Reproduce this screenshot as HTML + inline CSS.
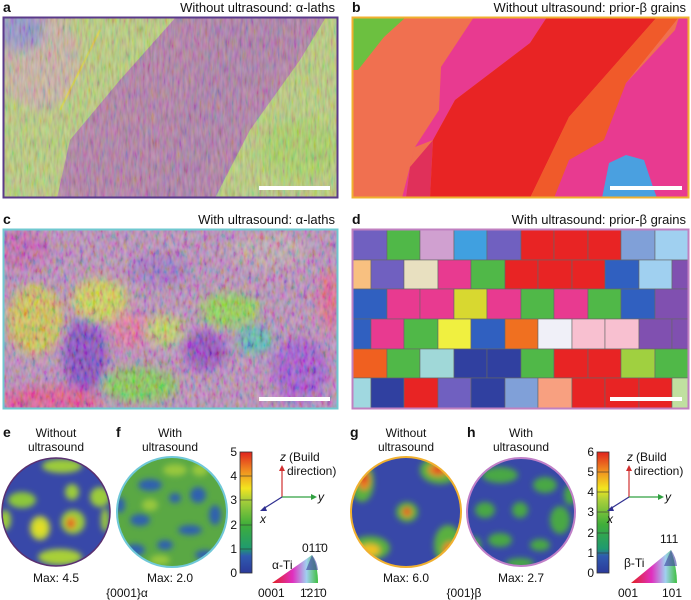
<!DOCTYPE html>
<html><head><meta charset="utf-8"><style>
body{margin:0;background:#fff;}
svg{display:block;font-family:"Liberation Sans",sans-serif;}
</style></head><body>
<svg width="691" height="600" viewBox="0 0 691 600" xmlns="http://www.w3.org/2000/svg">
<defs>
<filter id="tex" x="0" y="0" width="100%" height="100%">
 <feTurbulence type="fractalNoise" baseFrequency="0.35 0.08" numOctaves="2" seed="3"/>
 <feColorMatrix type="matrix" values="1.6 0 0 0 -0.3  0 1.6 0 0 -0.3  0 0 1.6 0 -0.3  0 0 0 0 0.22"/>
</filter>
<filter id="tex2" x="0" y="0" width="100%" height="100%">
 <feTurbulence type="fractalNoise" baseFrequency="0.25 0.12" numOctaves="2" seed="7"/>
 <feColorMatrix type="matrix" values="2 0 0 0 -0.5  0 2 0 0 -0.5  0 0 2 0 -0.5  0 0 0 0 0.25"/>
</filter>
<filter id="bl" x="-50%" y="-50%" width="200%" height="200%"><feGaussianBlur stdDeviation="5"/></filter>
<filter id="bl2" x="-50%" y="-50%" width="200%" height="200%"><feGaussianBlur stdDeviation="3"/></filter>
<clipPath id="ca"><rect x="3" y="17" width="335" height="181"/></clipPath>
<clipPath id="cc"><rect x="3" y="229" width="335" height="180"/></clipPath>
<clipPath id="cd"><rect x="353" y="230" width="335" height="178"/></clipPath>
<clipPath id="ce"><circle cx="56" cy="512" r="54"/></clipPath>
<clipPath id="cf"><circle cx="172" cy="512" r="55"/></clipPath>
<clipPath id="cg"><circle cx="406" cy="512" r="55"/></clipPath>
<clipPath id="ch"><circle cx="521" cy="512" r="54"/></clipPath>
<linearGradient id="cb" x1="0" y1="1" x2="0" y2="0">
 <stop offset="0" stop-color="#2b3a9a"/><stop offset="0.14" stop-color="#2f5ab0"/><stop offset="0.2" stop-color="#1f9a70"/>
 <stop offset="0.4" stop-color="#3fae3a"/><stop offset="0.6" stop-color="#a8cf3a"/><stop offset="0.7" stop-color="#f3e51f"/>
 <stop offset="0.85" stop-color="#f08a20"/><stop offset="1" stop-color="#e0231e"/>
</linearGradient>
<linearGradient id="tri" x1="0" y1="0" x2="1" y2="0">
 <stop offset="0" stop-color="#e02020"/><stop offset="0.45" stop-color="#e030c0"/><stop offset="0.75" stop-color="#a0d0f0"/><stop offset="1" stop-color="#40c040"/>
</linearGradient>
</defs>

<g font-size="13" fill="#111">
<text x="3" y="12" font-weight="bold" font-size="14">a</text>
<text x="335" y="12" text-anchor="end">Without ultrasound: α-laths</text>
<text x="352" y="12" font-weight="bold" font-size="14">b</text>
<text x="686" y="12" text-anchor="end">Without ultrasound: prior-β grains</text>
<text x="3" y="224" font-weight="bold" font-size="14">c</text>
<text x="335" y="224" text-anchor="end">With ultrasound: α-laths</text>
<text x="352" y="224" font-weight="bold" font-size="14">d</text>
<text x="686" y="224" text-anchor="end">With ultrasound: prior-β grains</text>
</g>

<!-- panel a -->
<g clip-path="url(#ca)">
<rect x="3" y="17" width="335" height="181" fill="#b8cc78"/>
<ellipse cx="40" cy="60" rx="40" ry="50" fill="#c8b0a0" filter="url(#bl)"/>
<ellipse cx="300" cy="150" rx="40" ry="30" fill="#a8d060" filter="url(#bl)"/>
<ellipse cx="20" cy="30" rx="25" ry="20" fill="#9090c8" filter="url(#bl)"/>
<polygon points="176,17 326,17 300,60 250,130 215,198 57,198 70,140 120,80" fill="#b07aa4"/>
<polygon points="215,17 300,17 260,80 220,140 190,198 150,198 180,120" fill="#a878a8" opacity="0.6"/>
<line x1="100" y1="30" x2="60" y2="110" stroke="#d8d040" stroke-width="2"/>
<rect x="3" y="17" width="335" height="181" filter="url(#tex)"/>
</g>
<rect x="3.5" y="17.5" width="334" height="180" fill="none" stroke="#5a3a8a" stroke-width="2"/>
<rect x="259" y="186" width="71" height="4" fill="#fff"/>

<!-- panel b -->
<g transform="translate(352,17)">
<rect x="0" y="0" width="337" height="181" fill="#f07050"/>
<polygon points="1,0 54,0 32,20 6,53 1,53" fill="#6cc040"/>
<polygon points="122,0 195,0 178,26 103,83 81,123 63,130 58,150 54,181 50,181 63,130 87,93 89,50" fill="#e83a90"/>
<polygon points="54,181 58,150 81,123 78,181" fill="#e0305a"/>
<polygon points="195,0 305,0 217,100 178,181 78,181 81,123 103,83 178,26" fill="#e82424"/>
<polygon points="305,0 327,0 274,66 252,133 202,181 178,181 217,100" fill="#f05a2a"/>
<polygon points="327,0 337,0 337,181 202,181 217,143 252,123 274,66 323,13" fill="#e83a90"/>
<polygon points="250,181 257,146 274,138 292,143 301,170 305,181" fill="#4aa0e0"/>
</g>
<rect x="352.5" y="17.5" width="336" height="180" fill="none" stroke="#f0b030" stroke-width="2"/>
<rect x="610" y="186" width="72" height="4" fill="#fff"/>

<!-- panel c -->
<g clip-path="url(#cc)">
<rect x="3" y="229" width="335" height="180" fill="#b888b8"/>
<g filter="url(#bl)">
<ellipse cx="35" cy="320" rx="28" ry="35" fill="#d0c050"/>
<ellipse cx="85" cy="355" rx="22" ry="38" fill="#8040c0"/>
<ellipse cx="100" cy="300" rx="28" ry="22" fill="#d0d050"/>
<ellipse cx="205" cy="350" rx="22" ry="20" fill="#9040c0"/>
<ellipse cx="140" cy="385" rx="38" ry="18" fill="#80c850"/>
<ellipse cx="300" cy="370" rx="28" ry="32" fill="#a050d0"/>
<ellipse cx="270" cy="250" rx="40" ry="18" fill="#c0a0b0"/>
<ellipse cx="230" cy="310" rx="30" ry="18" fill="#90d050"/>
<ellipse cx="20" cy="250" rx="30" ry="20" fill="#c060b0"/>
<ellipse cx="50" cy="400" rx="50" ry="14" fill="#e05090"/>
<ellipse cx="255" cy="340" rx="18" ry="14" fill="#50b8b0"/>
<ellipse cx="160" cy="270" rx="30" ry="16" fill="#a070c0"/>
<ellipse cx="130" cy="330" rx="20" ry="18" fill="#e070a0"/>
<ellipse cx="165" cy="330" rx="18" ry="16" fill="#c0d060"/>
<ellipse cx="330" cy="300" rx="12" ry="30" fill="#e06090"/>
</g>
<rect x="3" y="229" width="335" height="180" filter="url(#tex2)"/>
</g>
<rect x="3.5" y="229.5" width="334" height="179" fill="none" stroke="#70c8d0" stroke-width="2"/>
<rect x="259" y="397" width="71" height="4" fill="#fff"/>

<!-- panel d -->
<g clip-path="url(#cd)" stroke="#666" stroke-width="0.6">
<rect x="353" y="230" width="335" height="178" fill="#50b848"/>
<g>
<rect x="353" y="230" width="34" height="30" fill="#7060c0"/><rect x="387" y="230" width="33" height="30" fill="#50b848"/><rect x="420" y="230" width="34" height="30" fill="#d0a0d0"/><rect x="454" y="230" width="33" height="30" fill="#40a0e0"/><rect x="487" y="230" width="34" height="30" fill="#7060c0"/><rect x="521" y="230" width="33" height="30" fill="#e82424"/><rect x="554" y="230" width="34" height="30" fill="#e82424"/><rect x="588" y="230" width="33" height="30" fill="#e82424"/><rect x="621" y="230" width="34" height="30" fill="#80a0d8"/><rect x="655" y="230" width="33" height="30" fill="#a0d0f0"/>
</g>
<g>
<rect x="337" y="260" width="34" height="29" fill="#f8c080"/><rect x="371" y="260" width="33" height="29" fill="#7060c0"/><rect x="404" y="260" width="34" height="29" fill="#e8e0c0"/><rect x="438" y="260" width="33" height="29" fill="#e83a90"/><rect x="471" y="260" width="34" height="29" fill="#50b848"/><rect x="505" y="260" width="33" height="29" fill="#e82424"/><rect x="538" y="260" width="34" height="29" fill="#e82424"/><rect x="572" y="260" width="33" height="29" fill="#e82424"/><rect x="605" y="260" width="34" height="29" fill="#3060c0"/><rect x="639" y="260" width="33" height="29" fill="#a0d0f0"/><rect x="672" y="260" width="34" height="29" fill="#8050b0"/>
</g>
<g>
<rect x="353" y="289" width="34" height="30" fill="#3060c0"/><rect x="387" y="289" width="33" height="30" fill="#e83a90"/><rect x="420" y="289" width="34" height="30" fill="#e83a90"/><rect x="454" y="289" width="33" height="30" fill="#d8d830"/><rect x="487" y="289" width="34" height="30" fill="#e83a90"/><rect x="521" y="289" width="33" height="30" fill="#50b848"/><rect x="554" y="289" width="34" height="30" fill="#e83a90"/><rect x="588" y="289" width="33" height="30" fill="#50b848"/><rect x="621" y="289" width="34" height="30" fill="#3060c0"/><rect x="655" y="289" width="33" height="30" fill="#8050b0"/>
</g>
<g>
<rect x="337" y="319" width="34" height="30" fill="#3060c0"/><rect x="371" y="319" width="33" height="30" fill="#e83a90"/><rect x="404" y="319" width="34" height="30" fill="#50b848"/><rect x="438" y="319" width="33" height="30" fill="#f0f040"/><rect x="471" y="319" width="34" height="30" fill="#3060c0"/><rect x="505" y="319" width="33" height="30" fill="#f07020"/><rect x="538" y="319" width="34" height="30" fill="#f0f0f8"/><rect x="572" y="319" width="33" height="30" fill="#f8c0d0"/><rect x="605" y="319" width="34" height="30" fill="#f8c0d0"/><rect x="639" y="319" width="33" height="30" fill="#8050b0"/><rect x="672" y="319" width="34" height="30" fill="#8050b0"/>
</g>
<g>
<rect x="353" y="349" width="34" height="29" fill="#f06020"/><rect x="387" y="349" width="33" height="29" fill="#50b848"/><rect x="420" y="349" width="34" height="29" fill="#a0d8d8"/><rect x="454" y="349" width="33" height="29" fill="#3040a0"/><rect x="487" y="349" width="34" height="29" fill="#3040a0"/><rect x="521" y="349" width="33" height="29" fill="#50b848"/><rect x="554" y="349" width="34" height="29" fill="#e82424"/><rect x="588" y="349" width="33" height="29" fill="#e82424"/><rect x="621" y="349" width="34" height="29" fill="#a0d040"/><rect x="655" y="349" width="33" height="29" fill="#50b848"/>
</g>
<g>
<rect x="337" y="378" width="34" height="30" fill="#a0d8e0"/><rect x="371" y="378" width="33" height="30" fill="#3040a0"/><rect x="404" y="378" width="34" height="30" fill="#e82424"/><rect x="438" y="378" width="33" height="30" fill="#7060c0"/><rect x="471" y="378" width="34" height="30" fill="#3040a0"/><rect x="505" y="378" width="33" height="30" fill="#80a0d8"/><rect x="538" y="378" width="34" height="30" fill="#f8a080"/><rect x="572" y="378" width="33" height="30" fill="#e82424"/><rect x="605" y="378" width="34" height="30" fill="#e82424"/><rect x="639" y="378" width="33" height="30" fill="#e82424"/><rect x="672" y="378" width="34" height="30" fill="#c0e0a0"/>
</g>
</g>
<rect x="352.5" y="229.5" width="336" height="179" fill="none" stroke="#c080c0" stroke-width="2"/>
<rect x="610" y="397" width="72" height="4" fill="#fff"/>

<!-- pole figures -->
<g font-size="12" fill="#111" text-anchor="middle">
<text x="3" y="437" font-weight="bold" font-size="14" text-anchor="start">e</text>
<text x="56" y="437">Without</text><text x="56" y="451">ultrasound</text>
<text x="116" y="437" font-weight="bold" font-size="14" text-anchor="start">f</text>
<text x="170" y="437">With</text><text x="170" y="451">ultrasound</text>
<text x="56" y="582">Max: 4.5</text><text x="170" y="582">Max: 2.0</text>
<text x="127" y="597">{0001}α</text>
<text x="350" y="437" font-weight="bold" font-size="14" text-anchor="start">g</text>
<text x="406" y="437">Without</text><text x="406" y="451">ultrasound</text>
<text x="467" y="437" font-weight="bold" font-size="14" text-anchor="start">h</text>
<text x="521" y="437">With</text><text x="521" y="451">ultrasound</text>
<text x="406" y="582">Max: 6.0</text><text x="521" y="582">Max: 2.7</text>
<text x="464" y="597">{001}β</text>
</g>

<g clip-path="url(#ce)">
<rect x="0" y="455" width="115" height="115" fill="#3848a8"/>
<g filter="url(#bl2)">
<ellipse cx="62" cy="466" rx="20" ry="7" fill="#9ccc3a"/>
<ellipse cx="22" cy="500" rx="14" ry="8" fill="#8cc83a"/>
<ellipse cx="72" cy="492" rx="7" ry="8" fill="#9ccc3a"/>
<ellipse cx="100" cy="497" rx="10" ry="10" fill="#9ccc3a"/>
<ellipse cx="5" cy="520" rx="6" ry="10" fill="#9ccc3a"/>
<ellipse cx="40" cy="528" rx="10" ry="12" fill="#c8d830"/>
<ellipse cx="40" cy="528" rx="4" ry="5" fill="#f0e020"/>
<ellipse cx="73" cy="522" rx="12" ry="12" fill="#9ccc3a"/>
<ellipse cx="71" cy="523" rx="5" ry="6" fill="#f08a20"/>
<ellipse cx="70" cy="524" rx="2.5" ry="3" fill="#d02020"/>
<ellipse cx="60" cy="557" rx="22" ry="8" fill="#a8d038"/>
<ellipse cx="105" cy="520" rx="4" ry="12" fill="#9ccc3a"/>
</g></g>
<circle cx="56" cy="512" r="54" fill="none" stroke="#5a3070" stroke-width="1.5"/>

<g clip-path="url(#cf)">
<rect x="115" y="455" width="115" height="115" fill="#5aa844"/>
<g filter="url(#bl2)" fill="#2f60b0">
<ellipse cx="150" cy="485" rx="12" ry="6"/><ellipse cx="198" cy="495" rx="8" ry="8"/>
<ellipse cx="140" cy="520" rx="10" ry="6"/><ellipse cx="175" cy="498" rx="6" ry="5"/>
<ellipse cx="190" cy="530" rx="12" ry="5"/><ellipse cx="135" cy="550" rx="10" ry="6"/>
<ellipse cx="165" cy="545" rx="8" ry="5"/><ellipse cx="215" cy="515" rx="6" ry="10"/>
<ellipse cx="205" cy="555" rx="10" ry="5"/><ellipse cx="120" cy="505" rx="5" ry="8"/>
</g>
<g filter="url(#bl2)" fill="#98c83c">
<ellipse cx="175" cy="470" rx="12" ry="6"/><ellipse cx="150" cy="505" rx="8" ry="6"/>
<ellipse cx="200" cy="470" rx="8" ry="6"/><ellipse cx="160" cy="560" rx="10" ry="5"/>
</g></g>
<circle cx="172" cy="512" r="55" fill="none" stroke="#70c8d8" stroke-width="2"/>

<g clip-path="url(#cg)">
<rect x="345" y="455" width="125" height="115" fill="#3848a8"/>
<g filter="url(#bl2)">
<ellipse cx="362" cy="482" rx="12" ry="20" fill="#5ab040"/>
<ellipse cx="364" cy="480" rx="6" ry="10" fill="#f08020"/>
<ellipse cx="364" cy="478" rx="3" ry="5" fill="#d82020"/>
<ellipse cx="440" cy="470" rx="20" ry="14" fill="#5ab040"/>
<ellipse cx="438" cy="470" rx="10" ry="6" fill="#f08a20"/>
<ellipse cx="438" cy="470" rx="5" ry="3" fill="#d82020"/>
<ellipse cx="448" cy="545" rx="14" ry="20" fill="#5ab040"/>
<ellipse cx="450" cy="550" rx="7" ry="8" fill="#f08a20"/>
<ellipse cx="450" cy="552" rx="3" ry="4" fill="#d82020"/>
<ellipse cx="370" cy="548" rx="20" ry="12" fill="#5ab040"/>
<ellipse cx="370" cy="550" rx="10" ry="6" fill="#f0c020"/>
<ellipse cx="407" cy="512" rx="11" ry="10" fill="#5ab040"/>
<ellipse cx="407" cy="512" rx="5" ry="5" fill="#f08a20"/>
<ellipse cx="407" cy="511" rx="2.5" ry="3" fill="#d82020"/>
</g></g>
<circle cx="406" cy="512" r="55" fill="none" stroke="#f0b030" stroke-width="2"/>

<g clip-path="url(#ch)">
<rect x="465" y="455" width="115" height="115" fill="#3848a8"/>
<g filter="url(#bl2)" fill="#4aa844">
<ellipse cx="500" cy="475" rx="18" ry="8"/><ellipse cx="545" cy="485" rx="12" ry="8"/>
<ellipse cx="485" cy="510" rx="10" ry="8"/><ellipse cx="520" cy="510" rx="8" ry="8"/>
<ellipse cx="560" cy="520" rx="10" ry="14"/><ellipse cx="500" cy="540" rx="12" ry="7"/>
<ellipse cx="540" cy="545" rx="10" ry="6"/><ellipse cx="520" cy="563" rx="14" ry="5"/>
<ellipse cx="570" cy="495" rx="6" ry="10"/><ellipse cx="475" cy="545" rx="6" ry="8"/>
</g></g>
<circle cx="521" cy="512" r="54" fill="none" stroke="#c080c8" stroke-width="2"/>

<rect x="240" y="452" width="12" height="121" fill="url(#cb)" stroke="#333" stroke-width="0.8"/>
<g stroke="#333" stroke-width="0.6">
<line x1="240" y1="476" x2="252" y2="476"/><line x1="240" y1="500" x2="252" y2="500"/><line x1="240" y1="525" x2="252" y2="525"/><line x1="240" y1="549" x2="252" y2="549"/>
</g>
<g font-size="12" fill="#111" text-anchor="end">
<text x="237" y="577">0</text><text x="237" y="553">1</text><text x="237" y="529">2</text><text x="237" y="504">3</text><text x="237" y="480">4</text><text x="237" y="456">5</text>
</g>
<rect x="597" y="452" width="12" height="121" fill="url(#cb)" stroke="#333" stroke-width="0.8"/>
<g stroke="#333" stroke-width="0.6">
<line x1="597" y1="472" x2="609" y2="472"/><line x1="597" y1="492" x2="609" y2="492"/><line x1="597" y1="512" x2="609" y2="512"/><line x1="597" y1="533" x2="609" y2="533"/><line x1="597" y1="553" x2="609" y2="553"/>
</g>
<g font-size="12" fill="#111" text-anchor="end">
<text x="594" y="577">0</text><text x="594" y="557">1</text><text x="594" y="537">2</text><text x="594" y="516">3</text><text x="594" y="496">4</text><text x="594" y="476">5</text><text x="594" y="456">6</text>
</g>

<g>
<line x1="282" y1="497" x2="282" y2="470" stroke="#d03030" stroke-width="1.2"/><polygon points="279,471 285,471 282,465" fill="#d03030"/>
<line x1="282" y1="497" x2="312" y2="497" stroke="#30a040" stroke-width="1.2"/><polygon points="311,494 311,500 317,497" fill="#30a040"/>
<line x1="282" y1="497" x2="263" y2="509" stroke="#303090" stroke-width="1.2"/><polygon points="260,511 265,506 267,511" fill="#303090"/>
<g font-size="12" fill="#111"><text x="280" y="461" font-style="italic">z</text><text x="289" y="461">(Build</text><text x="287" y="475">direction)</text>
<text x="318" y="501" font-style="italic">y</text><text x="260" y="523" font-style="italic">x</text></g>
</g>
<g transform="translate(-9,0)">
<line x1="638" y1="497" x2="638" y2="470" stroke="#d03030" stroke-width="1.2"/><polygon points="635,471 641,471 638,465" fill="#d03030"/>
<line x1="638" y1="497" x2="668" y2="497" stroke="#30a040" stroke-width="1.2"/><polygon points="667,494 667,500 673,497" fill="#30a040"/>
<line x1="638" y1="497" x2="619" y2="509" stroke="#303090" stroke-width="1.2"/><polygon points="616,511 621,506 623,511" fill="#303090"/>
<g font-size="12" fill="#111"><text x="636" y="461" font-style="italic">z</text><text x="645" y="461">(Build</text><text x="643" y="475">direction)</text>
<text x="674" y="501" font-style="italic">y</text><text x="616" y="523" font-style="italic">x</text></g>
</g>

<path d="M272,583 L318,583 Q318,566 312,555 Z" fill="url(#tri)"/>
<path d="M312,555 L306,570 L318,570 Q317,561 312,555Z" fill="#4040a0" opacity="0.6"/>
<g font-size="12" fill="#111">
<text x="258" y="597">0001</text><text x="300" y="597">1̄21̄0</text><text x="302" y="552">011̄0</text><text x="272" y="569">α-Ti</text>
</g>
<path d="M631,583 L677,583 Q677,568 671,550 Z" fill="url(#tri)"/>
<path d="M671,550 L664,566 L677,566 Q676,557 671,550Z" fill="#4040a0" opacity="0.6"/>
<g font-size="12" fill="#111">
<text x="618" y="597">001</text><text x="662" y="597">101</text><text x="660" y="543">111</text><text x="624" y="567">β-Ti</text>
</g>
</svg>
</body></html>
